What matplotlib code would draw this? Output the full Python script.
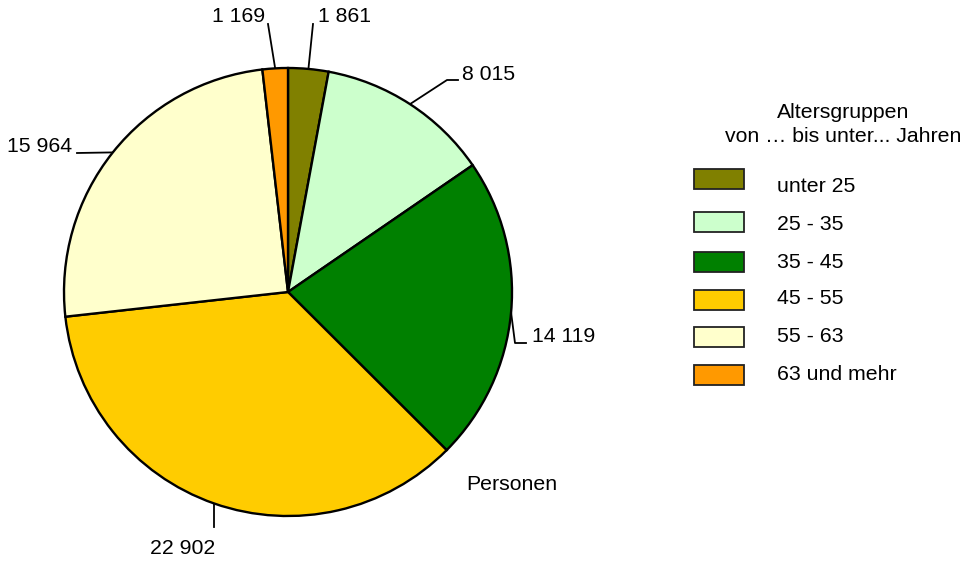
import numpy as np
import matplotlib.pyplot as plt
from matplotlib.patches import Rectangle

plt.rcParams['font.family'] = ['Liberation Sans', 'DejaVu Sans']

# Daten: Personen nach Altersgruppen
gruppen = ['unter 25', '25 - 35', '35 - 45', '45 - 55', '55 - 63', '63 und mehr']
personen = [1861, 8015, 14119, 22902, 15964, 1169]
beschriftung = ['1 861', '8 015', '14 119', '22 902', '15 964', '1 169']
farben = ['#808000', '#CCFFCC', '#008000', '#FFCC00', '#FFFFCC', '#FF9900']

W, H = 967, 564
FS = 15.3


def py(y):
    # Pixel-y (von oben) in Datenkoordinaten umrechnen
    return H - y


fig = plt.figure(figsize=(W / 100, H / 100), dpi=100)
ax = fig.add_axes([0, 0, 1, 1])

cx, cy, r = 288, py(292), 224
wedges, _ = ax.pie(personen, colors=farben, startangle=90, counterclock=False,
                   center=(cx, cy), radius=r, frame=True,
                   wedgeprops=dict(edgecolor='black', linewidth=1.7))
ax.set_xlim(0, W)
ax.set_ylim(0, H)
ax.set_aspect('equal')
ax.axis('off')

# Führungslinien: Knickpunkte und Textposition (Pixel, von oben)
leader = [
    ([(313, 24)], (318, 17), 'left'),
    ([(447, 80), (458, 80)], (462, 74), 'left'),
    ([(515, 343), (526, 343)], (532, 337), 'left'),
    ([(214, 527)], (215, 548), 'right'),
    ([(77, 153)], (72, 146), 'right'),
    ([(268, 24)], (265, 17), 'right'),
]

for w, txt, (pts, tpos, ha) in zip(wedges, beschriftung, leader):
    mid = np.deg2rad((w.theta1 + w.theta2) / 2)
    x0 = cx + r * np.cos(mid)
    y0 = cy + r * np.sin(mid)
    xs = [x0] + [p[0] for p in pts]
    ys = [y0] + [py(p[1]) for p in pts]
    ax.plot(xs, ys, color='black', lw=1.3, zorder=0)
    ax.text(tpos[0], py(tpos[1]), txt, ha=ha, va='center', fontsize=FS)

ax.text(512, py(484), 'Personen', ha='center', va='center', fontsize=FS)

# Legende
ax.text(843, py(113), 'Altersgruppen', ha='center', va='center', fontsize=FS)
ax.text(843, py(136), 'von … bis unter... Jahren', ha='center', va='center', fontsize=FS)
patch_y = [179, 222, 262, 300, 337, 375]
label_y = [187, 225, 262, 298, 337, 375]
for g, f, pyy, ly in zip(gruppen, farben, patch_y, label_y):
    ax.add_patch(Rectangle((694, py(pyy + 10)), 50, 20, facecolor=f,
                           edgecolor='#222222', lw=1.3))
    ax.text(777, py(ly), g, ha='left', va='center', fontsize=FS)

fig.savefig('out.png', dpi=100)
